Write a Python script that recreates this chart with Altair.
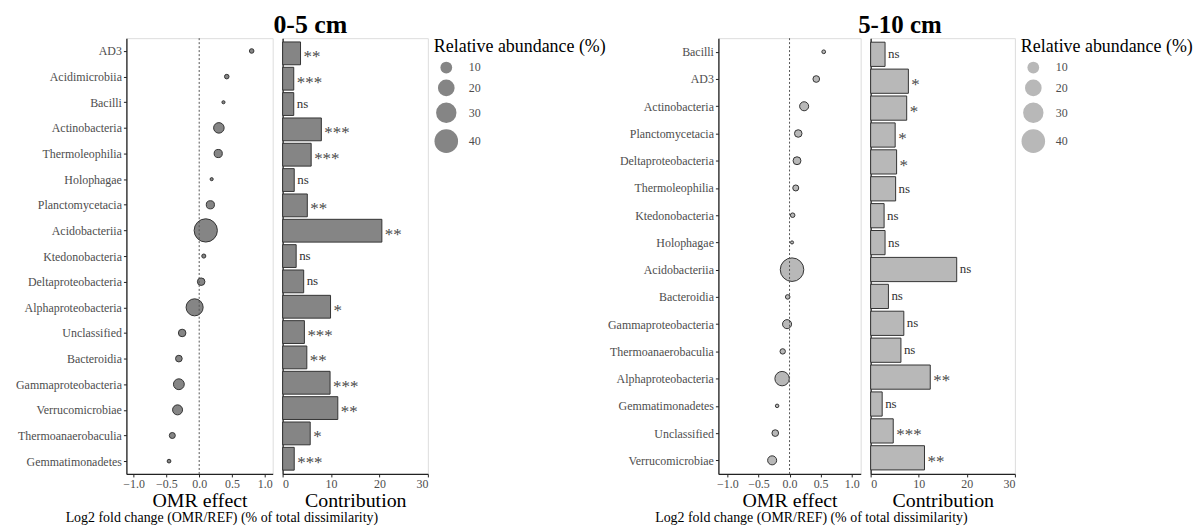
import altair as alt
import pandas as pd

SERIF = "Liberation Serif"

# ---------------- 0-5 cm ----------------
cls_a = ["AD3", "Acidimicrobiia", "Bacilli", "Actinobacteria", "Thermoleophilia",
         "Holophagae", "Planctomycetacia", "Acidobacteriia", "Ktedonobacteria",
         "Deltaproteobacteria", "Alphaproteobacteria", "Unclassified", "Bacteroidia",
         "Gammaproteobacteria", "Verrucomicrobiae", "Thermoanaerobaculia", "Gemmatimonadetes"]
lfc_a = [0.80, 0.42, 0.37, 0.30, 0.29, 0.19, 0.17, 0.10, 0.07,
         0.03, -0.07, -0.26, -0.31, -0.31, -0.33, -0.41, -0.46]
abund_a = [1.5, 1.5, 0.7, 8.0, 4.8, 0.7, 4.8, 39.0, 1.2,
           4.1, 21.0, 4.1, 3.2, 8.5, 7.2, 2.6, 1.0]
contrib_a = [3.7, 2.3, 2.3, 8.0, 5.9, 2.4, 5.1, 20.5, 2.8,
             4.35, 9.9, 4.5, 5.0, 9.8, 11.4, 5.7, 2.4]
sig_a = ["**", "***", "ns", "***", "***", "ns", "**", "**", "ns",
         "ns", "*", "***", "**", "***", "**", "*", "***"]

# ---------------- 5-10 cm ----------------
cls_b = ["Bacilli", "AD3", "Actinobacteria", "Planctomycetacia", "Deltaproteobacteria",
         "Thermoleophilia", "Ktedonobacteria", "Holophagae", "Acidobacteriia", "Bacteroidia",
         "Gammaproteobacteria", "Thermoanaerobaculia", "Alphaproteobacteria",
         "Gemmatimonadetes", "Unclassified", "Verrucomicrobiae"]
lfc_b = [0.55, 0.43, 0.235, 0.14, 0.12, 0.10, 0.05, 0.04, 0.04,
         -0.03, -0.04, -0.11, -0.12, -0.20, -0.23, -0.28]
abund_b = [1.0, 3.2, 5.9, 4.1, 4.5, 2.6, 1.5, 0.7, 40.0,
           1.5, 5.9, 2.1, 15.0, 0.9, 3.2, 5.9]
contrib_b = [3.0, 7.85, 7.5, 5.1, 5.4, 5.2, 2.8, 3.0, 17.9,
             3.7, 6.9, 6.3, 12.4, 2.4, 4.7, 11.2]
sig_b = ["ns", "*", "*", "*", "*", "ns", "ns", "ns", "ns",
         "ns", "ns", "ns", "**", "ns", "***", "**"]

lfc_ticks = [-1.0, -0.5, 0.0, 0.5, 1.0]
contrib_ticks = [0, 10, 20, 30]
legend_values = [10, 20, 30, 40]
zero_line = [0.0]


def axis_x(values, fmt, title):
    return alt.Axis(values=values, format=fmt, title=title, grid=False, labelOverlap=False,
                    labelFontSize=12, labelColor="#4d4d4d", labelFont=SERIF,
                    titleFont=SERIF, titleFontSize=20, titleFontWeight="normal",
                    titleColor="black", titlePadding=1, tickSize=3, tickColor="#222",
                    domainColor="#222", domainWidth=1.3, labelPadding=2)


def figure(cls, lfc, abund, contrib, sig, fill, dot_w, bar_w, h, xdom, title, tsize, sub_title):
    df = pd.DataFrame({"cls": cls, "lfc": lfc, "abund": abund, "contrib": contrib, "sig": sig})
    band = alt.Scale(paddingInner=0.1, paddingOuter=0.15)

    y_lab = alt.Y("cls:N", sort=cls, scale=band,
                  axis=alt.Axis(title=None, labelFontSize=12, labelColor="#4d4d4d",
                                labelFont=SERIF, tickSize=3, tickColor="#222",
                                labelPadding=2, domainColor="#222", domainWidth=1.3))
    y_nolab = alt.Y("cls:N", sort=cls, scale=band,
                    axis=alt.Axis(title=None, labels=False, ticks=False,
                                  domainColor="#222", domainWidth=1.3))

    xs = alt.Scale(domain=xdom, nice=False, zero=False)
    dots = alt.Chart(df).mark_circle(fill=fill, stroke="#333", strokeWidth=1, opacity=1).encode(
        x=alt.X("lfc:Q", scale=xs, axis=axis_x(lfc_ticks, ".1f", "OMR effect")),
        y=y_lab,
        size=alt.Size("abund:Q", scale=alt.Scale(domain=[0, 40], range=[0, 560]),
                      legend=alt.Legend(title="Relative abundance (%)", values=legend_values,
                                        titleFont=SERIF, titleFontSize=18,
                                        titleFontWeight="normal", titleColor="black",
                                        labelFont=SERIF, labelFontSize=12,
                                        labelColor="#4d4d4d", offset=5, labelOffset=10,
                                        titlePadding=5, rowPadding=1,
                                        symbolFillColor=fill, symbolStrokeColor="#333",
                                        symbolStrokeWidth=1)),
    )
    zdf = pd.DataFrame({"z": zero_line})
    rule = alt.Chart(zdf).mark_rule(strokeDash=[2, 2], color="#555", strokeWidth=1).encode(
        x=alt.X("z:Q", scale=xs, axis=axis_x(lfc_ticks, ".1f", "OMR effect"))
    )
    dot_panel = alt.layer(dots, rule).properties(width=dot_w, height=h)

    bx = alt.X("contrib:Q", scale=alt.Scale(domain=[0, 30], nice=False),
               axis=axis_x(contrib_ticks, "d", "Contribution"))
    bars = alt.Chart(df).mark_bar(fill=fill, stroke="#333", strokeWidth=1).encode(x=bx, y=y_nolab)
    stars = alt.Chart(df).transform_filter("datum.sig != 'ns'").mark_text(
        align="left", baseline="middle", dx=3, dy=4, fontSize=17, font=SERIF, color="#4a4a4a"
    ).encode(x="contrib:Q", y=y_nolab, text="sig:N")
    ns = alt.Chart(df).transform_filter("datum.sig == 'ns'").mark_text(
        align="left", baseline="middle", dx=3, fontSize=13, font=SERIF, color="#333333"
    ).encode(x="contrib:Q", y=y_nolab, text="sig:N")
    bar_panel = alt.layer(bars, stars, ns).properties(width=bar_w, height=h)

    inner = alt.hconcat(dot_panel, bar_panel, spacing=8).properties(
        title=alt.TitleParams(sub_title, orient="bottom", anchor="middle", font=SERIF,
                              fontSize=14, fontWeight="normal", color="black", offset=0)
    )
    return alt.hconcat(inner).properties(
        title=alt.TitleParams(title, font=SERIF, fontSize=tsize, fontWeight="bold",
                              color="black", anchor="middle", offset=-1)
    )


sub = "Log2 fold change (OMR/REF) (% of total dissimilarity)"
fig_a = figure(cls_a, lfc_a, abund_a, contrib_a, sig_a, "#858585", 147, 146, 438,
               [-1.11, 1.12], "0-5 cm", 26, sub)
fig_b = figure(cls_b, lfc_b, abund_b, contrib_b, sig_b, "#b8b8b8", 143, 145, 438,
               [-1.145, 1.145], "5-10 cm", 25, sub)

chart = alt.hconcat(fig_a, fig_b, spacing=0).resolve_scale(
    size="independent"
).resolve_legend(size="independent").properties(
    padding={"left": 6, "top": 3, "right": 0, "bottom": 0}
).configure_view(stroke="#aaaaaa", strokeWidth=1).configure(background="white")

chart.save("out.html", embed_options={"renderer": "svg", "actions": False})
